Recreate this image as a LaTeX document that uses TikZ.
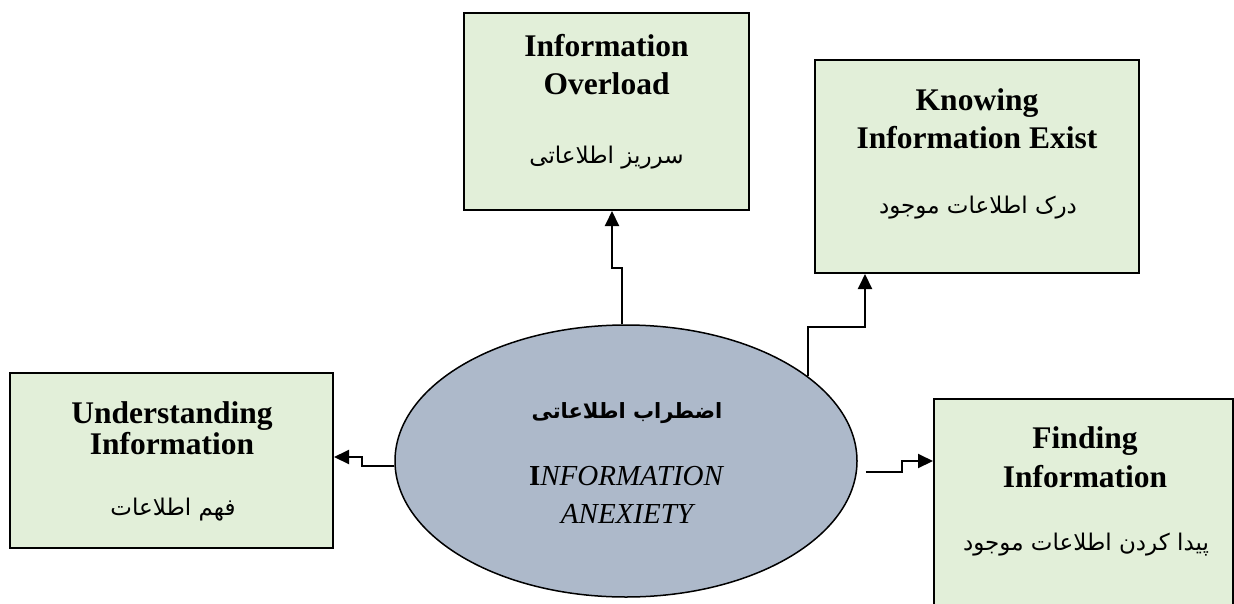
\documentclass[tikz,border=0pt]{standalone}
\usepackage{fontspec}
\setmainfont{Liberation Serif}
\newfontfamily\arabicfont[Script=Arabic]{DejaVu Sans}
\TeXXeTstate=1
\usetikzlibrary{arrows.meta,shapes.geometric}
\definecolor{boxfill}{HTML}{E2EFD9}
\definecolor{ellfill}{HTML}{ADB9CA}
\tikzset{
  box/.style={draw=black, line width=2pt, fill=boxfill, rectangle, inner sep=0pt},
  ellnode/.style={draw=black, line width=1.5pt, fill=ellfill, ellipse, inner sep=0pt, minimum width=462pt, minimum height=272pt},
  entitle/.style={anchor=base, inner sep=0pt, font=\fontsize{31.5}{36}\selectfont\bfseries},
  fatext/.style={anchor=base, inner sep=0pt, font=\fontsize{23}{28}\selectfont\arabicfont},
  conn/.style={line width=2pt, -{Triangle[length=15pt,width=14pt]}},
}
\begin{document}
\begin{tikzpicture}[x=1pt,y=-1pt]
\useasboundingbox (0,0) rectangle (1234,603);
% boxes
\node[box, minimum width=285pt, minimum height=197pt] (ov) at (606.5,111.5) {};
\node[box, minimum width=324pt, minimum height=213pt] (kn) at (977,166.5) {};
\node[box, minimum width=323pt, minimum height=175pt] (und) at (171.5,460.5) {};
\node[box, minimum width=299pt, minimum height=241pt] (fi) at (1083.5,519.5) {};
\node[ellnode] (ell) at (626,461) {};
% texts
\node[entitle] (ov1) at (606.5,56) {Information};
\node[entitle] (ov2) at (606.5,94) {Overload};
\node[fatext] (ov3) at (606.5,163) {\beginR سرریز اطلاعاتی\endR};
\node[entitle] (kn1) at (977,110) {Knowing};
\node[entitle] (kn2) at (977,148) {Information Exist};
\node[fatext] (kn3) at (978,213) {\beginR درک اطلاعات موجود\endR};
\node[entitle] (un1) at (172,423) {Understanding};
\node[entitle] (un2) at (172,454) {Information};
\node[fatext] (un3) at (173,515) {\beginR فهم اطلاعات\endR};
\node[entitle] (fi1) at (1085,448) {Finding};
\node[entitle] (fi2) at (1085,487) {Information};
\node[fatext] (fi3) at (1086,550) {\beginR پیدا کردن اطلاعات موجود\endR};
\node[anchor=base, inner sep=0pt, font=\fontsize{21}{26}\selectfont\arabicfont\bfseries] (el1) at (627,418) {\beginR اضطراب اطلاعاتی\endR};
\node[anchor=base, inner sep=0pt, font=\fontsize{29}{34}\selectfont\itshape] (el2) at (626,485) {{\upshape\bfseries I}NFORMATION};
\node[anchor=base, inner sep=0pt, font=\fontsize{29}{34}\selectfont\itshape] (el3) at (627,523) {ANEXIETY};
% connectors
\draw[conn] ([xshift=-4pt]ell.north) -- ++(0,-56) -| ([xshift=5.5pt]ov.south);
\draw[conn] (ell.25) -- ++(0,-49) -| ([xshift=51pt]kn.south west);
\draw[conn] ([yshift=-5pt]ell.west) -- ++(-32,0) |- ([yshift=3.5pt]und.east);
\draw[conn] ([xshift=8pt,yshift=-11pt]ell.east) -- ++(36,0) |- ([yshift=-63pt]fi.north west);
\end{tikzpicture}
\end{document}
